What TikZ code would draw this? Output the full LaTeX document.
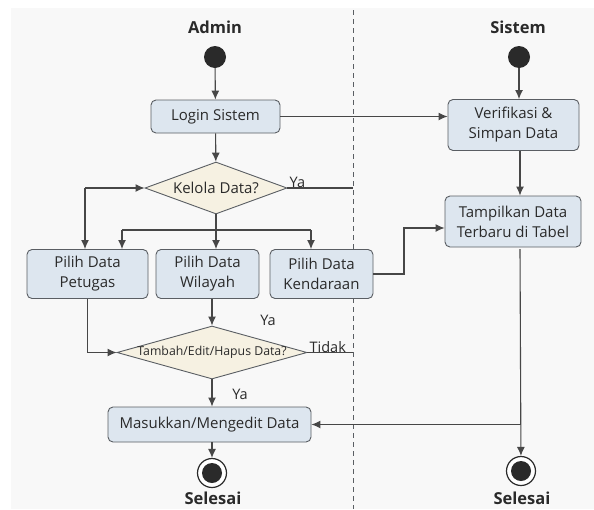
\documentclass[tikz,border=0pt]{standalone}
\usepackage{fontspec}
\setmainfont{Open Sans}
\usetikzlibrary{shapes.geometric,arrows.meta}
\definecolor{boxfill}{HTML}{DDE6EF}
\definecolor{boxline}{HTML}{5A5E63}
\definecolor{decfill}{HTML}{F6F1E2}
\definecolor{ink}{HTML}{2A2A2A}
\definecolor{wire}{HTML}{474747}
\definecolor{paper}{HTML}{F8F8F8}
\tikzset{
  act/.style={draw=boxline, fill=boxfill, rounded corners=5pt, line width=0.9pt,
    align=center, text=ink, font=\fontsize{15}{20}\selectfont, inner sep=0pt},
  dec/.style={draw=boxline, fill=decfill, diamond, line width=0.9pt, inner sep=0pt},
  dectext/.style={text=ink},
  startdot/.style={circle, fill=ink, minimum size=22pt, inner sep=0pt},
  enddot/.style={circle, draw=ink, line width=1.2pt, fill=white, minimum size=29pt, inner sep=0pt,
    path picture={\fill[ink] (path picture bounding box.center) circle (10pt);}},
  flow/.style={draw=wire, line width=1.1pt, -{Latex[length=9pt,width=8pt]}},
  wireonly/.style={draw=wire, line width=1.1pt},
  lane/.style={font=\bfseries\fontsize{16.5}{18}\selectfont, text=ink},
  tag/.style={font=\fontsize{14.5}{16}\selectfont, text=ink, inner sep=1pt},
}
\begin{document}
\begin{tikzpicture}[x=1pt, y=-1pt]
  \useasboundingbox (0,0) rectangle (594,509);
  \clip (0,0) rectangle (594,509);
  \fill[white] (0,0) rectangle (594,509);
  \fill[paper] (11,8) rectangle (594,509);

  % swimlane divider
  \draw[boxline, line width=0.8pt, dash pattern=on 5pt off 4pt] (353,10) -- (353,509);

  % lane headings
  \node[lane] (hadmin) at (215,27) {Admin};
  \node[lane] (hsistem) at (518,27) {Sistem};

  % Admin lane
  \node[startdot] (s1) at (215,57) {};
  \node[act, minimum width=129pt, minimum height=33pt] (login) at (215.5,116.5) {Login Sistem};
  \node[dec, minimum width=142pt, minimum height=52pt] (kel) at (216,188) {};
  \node[dectext, font=\fontsize{15}{16}\selectfont] at (kel) {Kelola Data?};

  \node[act, minimum width=121pt, minimum height=49pt] (pet) at (87.5,274) {Pilih Data\\Petugas};
  \node[act, minimum width=103pt, minimum height=49pt] (wil) at (207.5,274) {Pilih Data\\Wilayah};
  \node[act, minimum width=103pt, minimum height=49pt] (ken) at (321.5,274) {Pilih Data\\Kendaraan};

  \node[dec, minimum width=190pt, minimum height=53pt] (ted) at (212,352.5) {};
  \node[dectext, font=\fontsize{12.3}{14}\selectfont] at (ted) {Tambah/Edit/Hapus Data?};

  \node[act, minimum width=203pt, minimum height=35pt] (mas) at (209.5,424.5) {Masukkan/Mengedit Data};
  \node[enddot] (e1) at (212,473) {};
  \node[lane] (sel1) at (213,498) {Selesai};

  % Sistem lane
  \node[startdot] (s2) at (519,57) {};
  \node[act, minimum width=131pt, minimum height=51pt] (ver) at (513.5,125) {Verifikasi \&\\Simpan Data};
  \node[act, minimum width=136pt, minimum height=51pt] (tam) at (513,221.5) {Tampilkan Data\\Terbaru di Tabel};
  \node[enddot] (e2) at (521,471) {};
  \node[lane] (sel2) at (522,498) {Selesai};

  % helper points
  \coordinate (loopc) at (85,188);
  \coordinate (fork) at (216,230);
  \coordinate (lanex) at (353,0);
  \coordinate (kbend) at (404,228);
  \coordinate (tdrop) at (520,249);
  \coordinate (tsplit) at (520,424.5);

  % Admin flow
  \draw[flow] (s1) -- (login);
  \draw[flow] (login) -- (kel);
  \draw[flow] (login.east) -- (ver.west |- login.east);
  \draw[wireonly] (kel.east) -- (kel.east -| lanex);
  \node[tag, anchor=south west] at ([xshift=1pt,yshift=-1pt]kel.east) {Ya};

  \draw[flow] (loopc) -- (kel.west);
  \draw[flow] (loopc) -- (loopc |- pet.north);

  \draw[wireonly] (kel.south) -- (fork);
  \draw[wireonly] (fork -| 122,0) -- (fork -| 311,0);
  \draw[flow] (fork -| 122,0) -- (122,0 |- pet.north);
  \draw[flow] (fork) -- (fork |- wil.north);
  \draw[flow] (fork -| 311,0) -- (311,0 |- ken.north);

  \draw[flow] (ken.east) -| (kbend) -- (tam.west |- kbend);

  \draw[flow] (pet.south) |- (ted.west);
  \draw[flow] (ted.north |- wil.south) -- (ted.north);
  \node[tag] at (268,320) {Ya};
  \draw[wireonly] (ted.east) -- (ted.east -| lanex);
  \node[tag, anchor=south west] at ([xshift=1pt,yshift=-1pt]ted.east) {Tidak};

  \draw[flow] (ted.south) -- (ted.south |- mas.north);
  \node[tag] at (240,394) {Ya};
  \draw[flow] (e1 |- mas.south) -- (e1);

  % Sistem flow
  \draw[flow] (s2) -- (s2 |- ver.north);
  \draw[flow] (ver.south -| tdrop) -- (tdrop |- tam.north);
  \draw[flow] (tdrop) -- (e2);
  \draw[flow] (tsplit) -- (mas.east);
\end{tikzpicture}
\end{document}
